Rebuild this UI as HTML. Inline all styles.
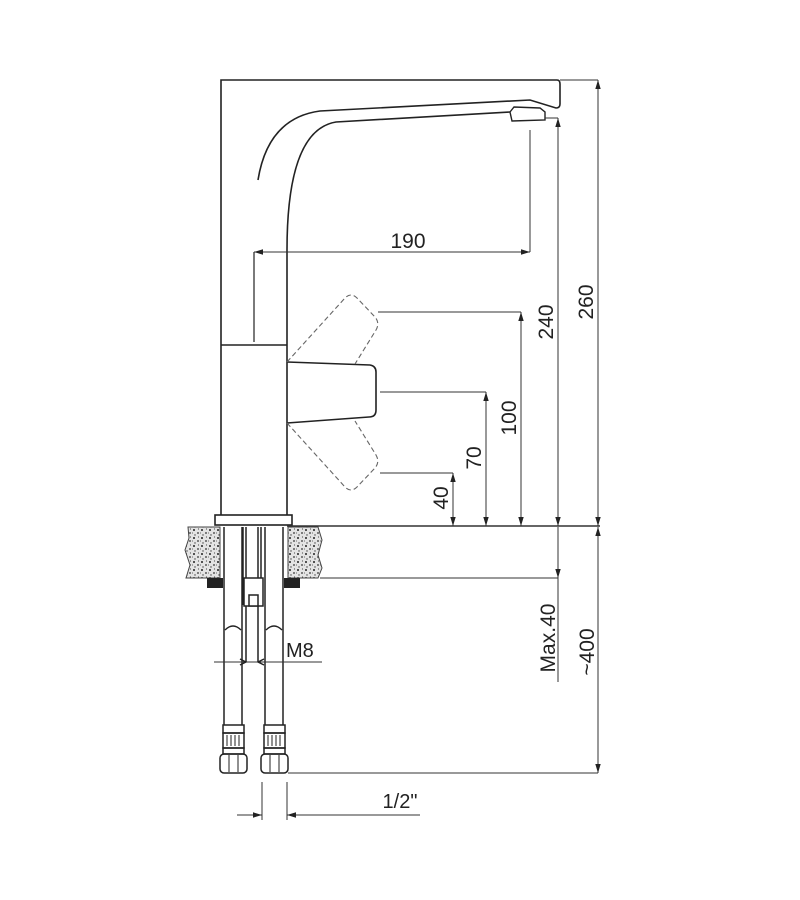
<!DOCTYPE html>
<html><head><meta charset="utf-8"><style>body{margin:0;background:#fff}svg{display:block}text{font-family:"Liberation Sans",sans-serif;fill:#222}</style></head><body>
<svg width="800" height="900" viewBox="0 0 800 900" xmlns="http://www.w3.org/2000/svg">
<defs>
<marker id="a" viewBox="0 0 10 10" refX="10" refY="5" markerWidth="9" markerHeight="9" orient="auto-start-reverse" markerUnits="userSpaceOnUse"><path d="M0,2 L10,5 L0,8 z" fill="#222"/></marker>
<pattern id="st" width="8" height="8" patternUnits="userSpaceOnUse"><rect width="8" height="8" fill="#e4e4e4"/><circle cx="2" cy="2" r="1" fill="#222"/><circle cx="6" cy="5" r="0.9" fill="#333"/><circle cx="3" cy="7" r="0.7" fill="#444"/><circle cx="6.5" cy="1" r="0.6" fill="#555"/><circle cx="0.5" cy="5" r="0.5" fill="#444"/></pattern>
</defs>
<g fill="none" stroke="#222" stroke-width="1.6">
<path d="M221,515 V80 H557 Q560,80 560,84 V104 Q560,108 556,108 L530,100 L320,111 Q268,118 258,180"/>
<path d="M287,345 V250 Q287,130 336,122 L510,112"/>
<path d="M510,112 L514,107 L540,108 L545,112 L545,120 L512,121 Z" stroke-width="1.4"/>
<line x1="221" y1="345" x2="287" y2="345"/>
<line x1="287" y1="345" x2="287" y2="515"/>
<path d="M287,362 L370,365 Q376,366 376,372 V410 Q376,417 369,417 L287,423"/>
<g stroke-dasharray="5,3" stroke="#666" stroke-width="1.1">
<path d="M287,362 L345,298 Q351,292 357,298 L375,317 Q380,323 376,330 L355,364"/>
<path d="M287,423 L345,487 Q351,493 357,487 L375,468 Q380,462 376,455 L355,421"/>
</g>
<line x1="254" y1="252" x2="254" y2="342" stroke-width="1.2"/>
<rect x="215" y="515" width="77" height="10" stroke-width="1.6"/>
</g>
<path d="M188,527 H220 V578 H186 L190,565 L185,550 L189,538 Z" fill="url(#st)" stroke="#444" stroke-width="1"/>
<path d="M288,527 H318 L322,540 L318,555 L322,568 L318,578 H288 Z" fill="url(#st)" stroke="#444" stroke-width="1"/>
<rect x="207" y="578" width="16" height="10" fill="#222"/>
<rect x="284" y="578" width="16" height="10" fill="#222"/>
<g fill="none" stroke="#222" stroke-width="1.5">
<path d="M224,527 V725 M242,527 V725 M265,527 V725 M283,527 V725"/>
<path d="M243,527 V605 M261,527 V605 M246,527 V605 M258,527 V605"/>
<rect x="244" y="578" width="19" height="28" fill="#fff"/>
<rect x="249" y="595" width="9" height="11" fill="#fff"/>
<path d="M246,606 V662 M258,606 V662"/>
<path d="M225,630 Q233,622 241,630 M266,630 Q274,622 282,630"/>
<rect x="223" y="725" width="21" height="8"/><rect x="264" y="725" width="21" height="8"/>
<rect x="223" y="733" width="21" height="15"/><rect x="264" y="733" width="21" height="15"/>
<path d="M227,735 V746 M231,735 V746 M235,735 V746 M239,735 V746 M268,735 V746 M272,735 V746 M276,735 V746 M280,735 V746" stroke-width="1"/>
<rect x="223" y="748" width="21" height="6"/><rect x="264" y="748" width="21" height="6"/>
<rect x="220" y="754" width="27" height="19" rx="4"/><rect x="261" y="754" width="27" height="19" rx="4"/>
<path d="M229,755 V772 M238,755 V772 M270,755 V772 M279,755 V772" stroke-width="1"/>
</g>
<g fill="none" stroke="#333" stroke-width="1">
<line x1="287" y1="526" x2="600" y2="526" stroke-width="1.4"/>
<line x1="530" y1="130" x2="530" y2="252"/>
<line x1="254" y1="252" x2="530" y2="252" marker-start="url(#a)" marker-end="url(#a)"/>
<line x1="378" y1="312" x2="521" y2="312"/>
<line x1="380" y1="392" x2="486" y2="392"/>
<line x1="380" y1="473" x2="453" y2="473"/>
<line x1="453" y1="526" x2="453" y2="473" marker-start="url(#a)" marker-end="url(#a)"/>
<line x1="486" y1="526" x2="486" y2="392" marker-start="url(#a)" marker-end="url(#a)"/>
<line x1="521" y1="526" x2="521" y2="312" marker-start="url(#a)" marker-end="url(#a)"/>
<line x1="558" y1="526" x2="558" y2="118" marker-start="url(#a)" marker-end="url(#a)"/>
<line x1="545" y1="118" x2="558" y2="118"/>
<line x1="598" y1="526" x2="598" y2="80" marker-start="url(#a)" marker-end="url(#a)"/>
<line x1="560" y1="80" x2="598" y2="80"/>
<line x1="320" y1="578" x2="558" y2="578"/>
<line x1="558" y1="527" x2="558" y2="578" marker-end="url(#a)"/>
<line x1="558" y1="578" x2="558" y2="682"/>
<line x1="598" y1="527" x2="598" y2="773" marker-start="url(#a)" marker-end="url(#a)"/>
<line x1="288" y1="773" x2="598" y2="773"/>
<line x1="214" y1="662" x2="322" y2="662"/>
<path d="M240,659 L246,662 L240,665 M264,659 L258,662 L264,665" stroke="#222" stroke-width="1.4"/>
<line x1="262" y1="782" x2="262" y2="820"/>
<line x1="287" y1="782" x2="287" y2="820"/>
<line x1="237" y1="815" x2="262" y2="815" marker-end="url(#a)"/>
<line x1="420" y1="815" x2="287" y2="815" marker-end="url(#a)"/>
</g>
<g font-size="21">
<text x="408" y="248" text-anchor="middle">190</text>
<text x="286" y="657" font-size="20">M8</text>
<text x="400" y="808" text-anchor="middle" font-size="20">1/2"</text>
<text transform="translate(448,498) rotate(-90)" text-anchor="middle">40</text>
<text transform="translate(481,458) rotate(-90)" text-anchor="middle">70</text>
<text transform="translate(516,418) rotate(-90)" text-anchor="middle">100</text>
<text transform="translate(553,322) rotate(-90)" text-anchor="middle">240</text>
<text transform="translate(593,302) rotate(-90)" text-anchor="middle">260</text>
<text transform="translate(555,638) rotate(-90)" text-anchor="middle">Max.40</text>
<text transform="translate(594,652) rotate(-90)" text-anchor="middle">~400</text>
</g>
</svg>
</body></html>
